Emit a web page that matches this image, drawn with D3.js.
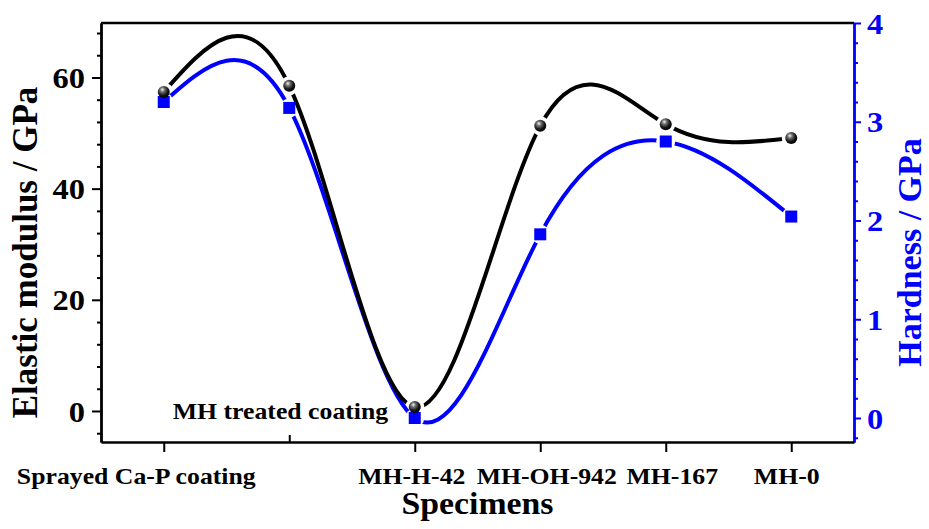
<!DOCTYPE html>
<html><head><meta charset="utf-8">
<script src="https://cdn.jsdelivr.net/npm/d3@7"></script>
<style>
body{margin:0;background:#fff}
text{font-family:"Liberation Serif","Times New Roman",serif;font-weight:bold}
</style>
</head><body><svg id="c" width="929" height="529"></svg>
<script>
// ---- data ----
const categories = ["Sprayed Ca-P coating", "", "MH-H-42", "MH-OH-942", "MH-167", "MH-0"];
const elasticModulus = [57.4, 58.5, 0.7, 51.3, 51.6, 49.1];   // GPa (left axis)
const hardness = [3.20, 3.14, 0.0, 1.86, 2.80, 2.04];          // GPa (right axis)
const leftMajorTicks = [0, 20, 40, 60];
const leftMinorTicks = [-4, 4, 8, 12, 16, 24, 28, 32, 36, 44, 48, 52, 56, 64, 68];
const rightMajorTicks = [0, 1, 2, 3, 4];
const rightMinorTicks = [-0.2, 0.2, 0.4, 0.6, 0.8, 1.2, 1.4, 1.6, 1.8, 2.2, 2.4, 2.6, 2.8, 3.2, 3.4, 3.6, 3.8];
const annotation = "MH treated coating";
const xTitle = "Specimens", yLeftTitle = "Elastic modulus / GPa", yRightTitle = "Hardness / GPa";

// ---- layout ----
const L = 101, R = 854, T = 23, B = 442;
const BLUE = "#0000ff";
const SX = 1.12; // horizontal stretch of the original raster text
const labelShift = [-28, 0, -3.5, 6, 6, -5]; // label nudges as in the original figure
const svg = d3.select("#c");
const x = d3.scaleLinear().domain([-0.5, 5.5]).range([L, R]);
const yL = d3.scaleLinear().domain([-5.58, 69.8]).range([B, T]);
const yR = d3.scaleLinear().domain([-0.243, 4]).range([B, T]);

const defs = svg.append("defs");
const g = defs.append("radialGradient").attr("id", "sphere")
  .attr("cx", "40%").attr("cy", "35%").attr("r", "65%").attr("fx", "38%").attr("fy", "30%");
g.append("stop").attr("offset", "0%").attr("stop-color", "#f4f4f4");
g.append("stop").attr("offset", "30%").attr("stop-color", "#707070");
g.append("stop").attr("offset", "70%").attr("stop-color", "#151515");
g.append("stop").attr("offset", "100%").attr("stop-color", "#000");

// masks to leave gaps around markers
function makeMask(id, ys, scale) {
  const m = defs.append("mask").attr("id", id).attr("maskUnits", "userSpaceOnUse")
    .attr("x", 0).attr("y", 0).attr("width", 929).attr("height", 529);
  m.append("rect").attr("width", 929).attr("height", 529).attr("fill", "#fff");
  m.selectAll("circle").data(ys).join("circle")
    .attr("cx", (d, i) => x(i)).attr("cy", d => scale(d)).attr("r", 9.5).attr("fill", "#000");
}
makeMask("mE", elasticModulus, yL);
makeMask("mH", hardness, yR);

// frame top
svg.append("line").attr("x1", L).attr("x2", R).attr("y1", T).attr("y2", T)
  .attr("stroke", "#000").attr("stroke-width", 2.4);

// curves
const lineE = d3.line().x((d, i) => x(i)).y(d => yL(d)).curve(d3.curveNatural);
const lineH = d3.line().x((d, i) => x(i)).y(d => yR(d)).curve(d3.curveNatural);
svg.append("path").attr("d", lineH(hardness)).attr("fill", "none").attr("stroke", BLUE)
  .attr("stroke-width", 4).attr("mask", "url(#mH)");
svg.append("path").attr("d", lineE(elasticModulus)).attr("fill", "none").attr("stroke", "#000")
  .attr("stroke-width", 4).attr("mask", "url(#mE)");

// markers
svg.selectAll("rect.h").data(hardness).join("rect").attr("class", "h")
  .attr("x", (d, i) => x(i) - 6).attr("y", d => yR(d) - 6).attr("width", 12).attr("height", 12)
  .attr("fill", BLUE);
svg.selectAll("circle.e").data(elasticModulus).join("circle").attr("class", "e")
  .attr("cx", (d, i) => x(i)).attr("cy", d => yL(d)).attr("r", 6)
  .attr("fill", "url(#sphere)");

// helpers
function styleAxis(sel, color) {
  sel.select(".domain").attr("stroke", color).attr("stroke-width", 2.4);
  sel.selectAll(".tick line").attr("stroke", color).attr("stroke-width", 2);
}
function stretchLabels(sel, size, color, sx) {
  sel.selectAll(".tick text").each(function () {
    const t = d3.select(this);
    const tx = +t.attr("x") || 0;
    t.attr("x", 0).attr("transform", `translate(${tx},0) scale(${sx},1)`)
      .attr("font-size", size).attr("fill", color)
      .attr("font-family", "Liberation Serif").attr("font-weight", "bold");
  });
}

// left axis
const aL = svg.append("g").attr("transform", `translate(${L},0)`)
  .call(d3.axisLeft(yL).tickValues(leftMajorTicks).tickSize(9).tickSizeOuter(0).tickPadding(7));
styleAxis(aL, "#000");
stretchLabels(aL, 29, "#000", SX);
aL.selectAll(".tick text").attr("dy", "0.35em");
const aLm = svg.append("g").attr("transform", `translate(${L},0)`)
  .call(d3.axisLeft(yL).tickValues(leftMinorTicks).tickSize(4).tickSizeOuter(0).tickFormat(""));
styleAxis(aLm, "#000");

// right axis
const aR = svg.append("g").attr("transform", `translate(${R},0)`)
  .call(d3.axisRight(yR).tickValues(rightMajorTicks).tickSize(7).tickSizeOuter(0).tickPadding(6)
    .tickFormat(d3.format("d")));
styleAxis(aR, BLUE);
stretchLabels(aR, 29, BLUE, SX);
aR.selectAll(".tick text").attr("dy", "0.35em");
const aRm = svg.append("g").attr("transform", `translate(${R},0)`)
  .call(d3.axisRight(yR).tickValues(rightMinorTicks).tickSize(4).tickSizeOuter(0).tickFormat(""));
styleAxis(aRm, BLUE);

// bottom axis
const aB = svg.append("g").attr("transform", `translate(0,${B})`)
  .call(d3.axisBottom(x).tickValues(d3.range(categories.length)).tickSize(10).tickSizeOuter(0)
    .tickFormat(i => categories[i]));
styleAxis(aB, "#000");
aB.selectAll(".tick line").attr("y2", d => categories[d] === "" ? -7 : 10);
aB.selectAll(".tick text").each(function (d) {
  const t = d3.select(this);
  t.attr("x", 0).attr("y", 0).attr("dy", 0)
    .attr("transform", `translate(${labelShift[d]},42) scale(${SX},1)`)
    .attr("font-size", 23).attr("fill", "#000")
    .attr("font-family", "Liberation Serif").attr("font-weight", "bold");
});

// annotation
svg.append("text").attr("transform", `translate(${x(0) + 9},${yL(0) + 8}) scale(${SX},1)`)
  .attr("font-size", 23).attr("fill", "#000").text(annotation);

// titles
svg.append("text").attr("transform", `translate(${(L + R) / 2},514) scale(1.09,1)`)
  .attr("text-anchor", "middle").attr("font-size", 31).attr("fill", "#000").text(xTitle);
svg.append("text").attr("transform", `translate(37,252.5) rotate(-90)`)
  .attr("text-anchor", "middle").attr("font-size", 35).attr("fill", "#000").text(yLeftTitle);
svg.append("text").attr("transform", `translate(921,252.5) rotate(-90)`)
  .attr("text-anchor", "middle").attr("font-size", 34).attr("fill", BLUE).text(yRightTitle);
</script></body></html>
